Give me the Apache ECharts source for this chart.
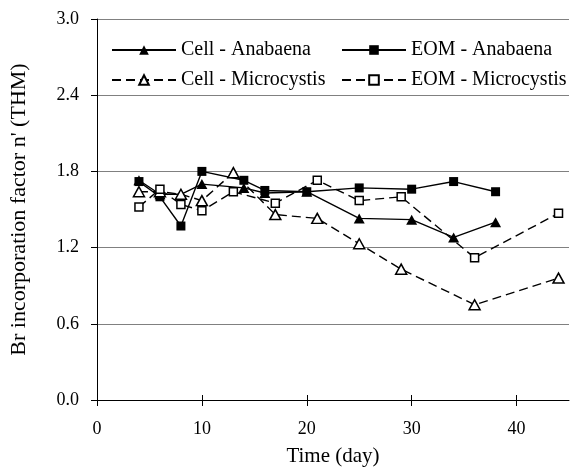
<!DOCTYPE html>
<html>
<head>
<meta charset="utf-8">
<script src="https://cdn.jsdelivr.net/npm/echarts@6/dist/echarts.min.js"></script>
<style>
html,body{margin:0;padding:0;background:#fff;}
#chart{width:573px;height:472px;}
</style>
</head>
<body>
<div id="chart"></div>
<script>
// ---- data ----
const cellAnabaenaDays = [4, 6, 8, 10, 14, 16, 20, 25, 30, 34, 38];
const cellAnabaenaVals = [1.73, 1.62, 1.62, 1.70, 1.67, 1.63, 1.64, 1.43, 1.42, 1.28, 1.40];
const eomAnabaenaDays = [4, 6, 8, 10, 14, 16, 20, 25, 30, 34, 38];
const eomAnabaenaVals = [1.72, 1.60, 1.37, 1.80, 1.73, 1.65, 1.64, 1.67, 1.66, 1.72, 1.64];
const cellMicroDays = [4, 6, 8, 10, 13, 17, 21, 25, 29, 36, 44];
const cellMicroVals = [1.64, 1.64, 1.62, 1.57, 1.79, 1.46, 1.43, 1.23, 1.03, 0.75, 0.96];
const eomMicroDays = [4, 6, 8, 10, 13, 17, 21, 25, 29, 36, 44];
const eomMicroVals = [1.52, 1.66, 1.54, 1.49, 1.64, 1.55, 1.73, 1.57, 1.60, 1.12, 1.47];
const xTicks = [0, 10, 20, 30, 40];
const yTicks = [0.0, 0.6, 1.2, 1.8, 2.4, 3.0];
const seriesNames = ['Cell - Anabaena', 'EOM - Anabaena', 'Cell - Microcystis', 'EOM - Microcystis'];

const pairs = (xs, ys) => xs.map((x, i) => [x, ys[i]]);
const FONT = '"Liberation Serif", "Times New Roman", serif';

function mk(name, data, dashed, symbol, filled, size) {
  return {
    name: name,
    type: 'line',
    data: data,
    symbol: symbol,
    symbolSize: size,
    showSymbol: true,
    animation: false,
    lineStyle: { color: '#000', width: 1.4, type: dashed ? [9, 5] : 'solid' },
    itemStyle: filled ? { color: '#000', borderColor: '#000', borderWidth: 0 }
                      : { color: '#fff', borderColor: '#000', borderWidth: 1.5 },
    emphasis: { disabled: true }
  };
}

const chart = echarts.init(document.getElementById('chart'), null, { renderer: 'canvas' });
chart.setOption({
  backgroundColor: '#fff',
  animation: false,
  textStyle: { fontFamily: FONT, color: '#000' },
  grid: { left: 95, right: 4, top: 19, bottom: 68, containLabel: false },
  legend: [
    {
      data: [seriesNames[0], seriesNames[2]],
      orient: 'vertical', left: 106, top: 35, itemWidth: 64, itemHeight: 12, itemGap: 10,
      textStyle: { fontFamily: FONT, fontSize: 20, color: '#000' }
    },
    {
      data: [seriesNames[1], seriesNames[3]],
      orient: 'vertical', left: 336, top: 35, itemWidth: 64, itemHeight: 12, itemGap: 10,
      textStyle: { fontFamily: FONT, fontSize: 20, color: '#000' }
    }
  ],
  xAxis: [
    {
      type: 'value', min: 0, max: 45, interval: 10,
      name: 'Time (day)', nameLocation: 'middle', nameGap: 46,
      nameTextStyle: { fontFamily: FONT, fontSize: 21, color: '#000' },
      axisLine: { show: true, lineStyle: { color: '#000', width: 1 } },
      axisTick: { show: true, length: 6, customValues: xTicks, lineStyle: { color: '#000' } },
      axisLabel: { customValues: xTicks, fontFamily: FONT, fontSize: 18, color: '#000', margin: 20 },
      splitLine: { show: false }
    },
    {
      type: 'value', min: 0, max: 45, position: 'bottom',
      axisLine: { show: false },
      axisTick: { show: true, inside: true, length: 5, customValues: xTicks, lineStyle: { color: '#000' } },
      axisLabel: { show: false },
      splitLine: { show: false }
    }
  ],
  yAxis: {
    type: 'value', min: 0, max: 3.0, interval: 0.6,
    name: "Br incorporation factor n' (THM)", nameLocation: 'middle', nameGap: 67,
    nameTextStyle: { fontFamily: FONT, fontSize: 22, color: '#000' },
    axisLine: { show: true, lineStyle: { color: '#000', width: 1 } },
    axisTick: { show: true, length: 6, lineStyle: { color: '#000' } },
    axisLabel: { fontFamily: FONT, fontSize: 18, color: '#000', margin: 18,
                 formatter: v => v.toFixed(1) },
    splitLine: { show: true, lineStyle: { color: '#808080', width: 1 } }
  },
  series: [
    mk(seriesNames[0], pairs(cellAnabaenaDays, cellAnabaenaVals), false, 'triangle', true, [11, 10]),
    mk(seriesNames[1], pairs(eomAnabaenaDays, eomAnabaenaVals), false, 'rect', true, 9),
    mk(seriesNames[2], pairs(cellMicroDays, cellMicroVals), true, 'triangle', false, [11, 10]),
    mk(seriesNames[3], pairs(eomMicroDays, eomMicroVals), true, 'rect', false, 8)
  ]
});
</script>
</body>
</html>
